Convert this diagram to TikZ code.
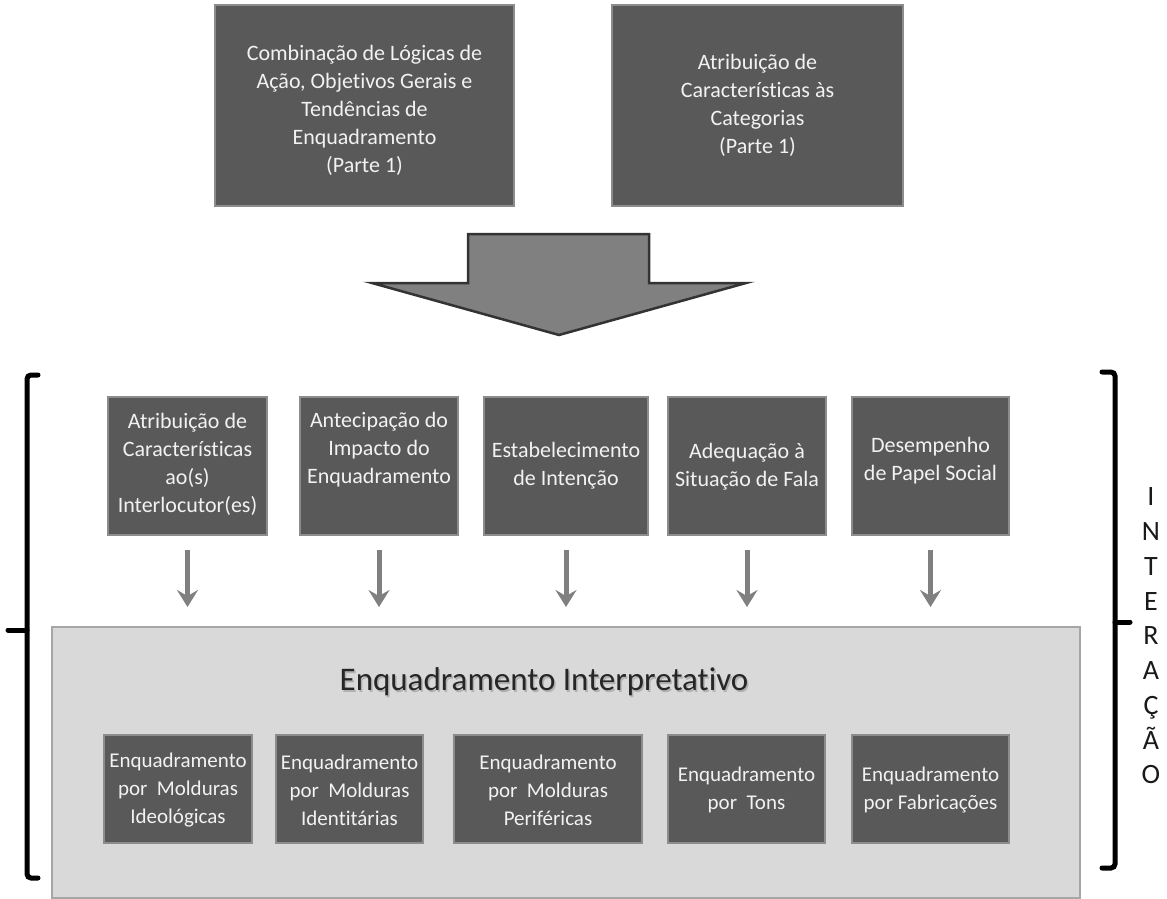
\documentclass[tikz,border=0pt]{standalone}
\usepackage{fontspec}
\setmainfont{Carlito}[Ligatures={NoCommon}]
\usetikzlibrary{arrows.meta}
\definecolor{boxfill}{HTML}{595959}
\definecolor{boxline}{HTML}{8C8C8C}
\definecolor{panelfill}{HTML}{D9D9D9}
\definecolor{panelline}{HTML}{A6A6A6}
\definecolor{arrowgray}{HTML}{808080}
\definecolor{arrowline}{HTML}{333333}
\definecolor{boxtextcol}{HTML}{F2F2F2}
\definecolor{titlecol}{HTML}{262626}
\newcommand{\vertfont}{\fontsize{28}{34.75}\selectfont\lineskiplimit=-100pt\relax}
\tikzset{
  dbox/.style={draw=boxline, line width=2pt, fill=boxfill, inner sep=0pt, outer sep=0pt},
  lbox/.style={draw=panelline, line width=2pt, fill=panelfill, inner sep=0pt, outer sep=0pt},
  boxtext/.style={text=boxtextcol, align=center, inner sep=0pt,
    font=\fontsize{22}{28}\selectfont},
  smalltext/.style={boxtext, font=\fontsize{21}{28}\selectfont},
  titletext/.style={inner sep=0pt, anchor=base, font=\fontsize{33}{38}\selectfont},
  sarrow/.style={draw=arrowgray, line width=5pt,
    -{Stealth[length=17pt, width=21pt, inset=6pt]}},
  brk/.style={line width=5pt, rounded corners=4pt, line cap=round},
}
\begin{document}
\begin{tikzpicture}[x=1pt, y=-1pt]
\useasboundingbox (0,0) rectangle (1167,899);

% top boxes
\node[dbox, minimum width=299, minimum height=201] (top1) at (364.5,105.5) {};
\node[boxtext] (top1t) at (364.5,110) {Combinação de Lógicas de\\Ação, Objetivos Gerais e\\Tendências de\\Enquadramento\\(Parte 1)};
\node[dbox, minimum width=291, minimum height=201] (top2) at (757.5,105.5) {};
\node[boxtext] (top2t) at (757.5,105) {Atribuição de\\Características às\\Categorias\\(Parte 1)};

% large block arrow
\draw[fill=arrowgray, draw=arrowline, line width=2.5pt, line join=miter]
  (468,234) -- (649,234) -- (649,283) -- (746,283) -- (559,335)
  -- (372,283) -- (468,283) -- cycle;

% middle row
\node[dbox, minimum width=159, minimum height=138] (m1) at (187.5,466) {};
\node[boxtext] (m1t) at (187.5,464) {Atribuição de\\Características\\ao(s)\\Interlocutor(es)};
\node[dbox, minimum width=158, minimum height=138] (m2) at (379,466) {};
\node[boxtext] (m2t) at (379,450) {Antecipação do\\Impacto do\\Enquadramento};
\node[dbox, minimum width=164, minimum height=138] (m3) at (566,466) {};
\node[boxtext] (m3t) at (566,466) {Estabelecimento\\de Intenção};
\node[dbox, minimum width=158, minimum height=138] (m4) at (747,466) {};
\node[boxtext] (m4t) at (747,467) {Adequação à\\Situação de Fala};
\node[dbox, minimum width=157, minimum height=138] (m5) at (930.5,466) {};
\node[boxtext] (m5t) at (930.5,461) {Desempenho\\de Papel Social};

% panel with its heading (soft drop shadow under the heading)
\node[lbox, minimum width=1028, minimum height=271] (panel) at (566,762.5) {};
\node[titletext, text=black, opacity=0.18] (titleshadow) at (545.5,692) {Enquadramento Interpretativo};
\node[titletext, text=titlecol] (title) at (544,690) {Enquadramento Interpretativo};

% bottom row
\node[dbox, minimum width=148, minimum height=108] (b1) at (178,789) {};
\node[smalltext] (b1t) at (178,790) {Enquadramento\\por\ \ Molduras\\Ideológicas};
\node[dbox, minimum width=147, minimum height=108] (b2) at (349.5,789) {};
\node[smalltext] (b2t) at (349.5,790) {Enquadramento\\por\ \ Molduras\\Identitárias};
\node[dbox, minimum width=188, minimum height=108] (b3) at (548,789) {};
\node[smalltext] (b3t) at (548,790) {Enquadramento\\por\ \ Molduras\\Periféricas};
\node[dbox, minimum width=157, minimum height=108] (b4) at (746.5,789) {};
\node[smalltext] (b4t) at (746.5,790) {Enquadramento\\por\ \ Tons};
\node[dbox, minimum width=157, minimum height=108] (b5) at (930.5,789) {};
\node[smalltext] (b5t) at (930.5,790) {Enquadramento\\por Fabricações};

% arrows from the middle row into the panel
\foreach \m in {m1,m2,m3,m4,m5}{
  \draw[sarrow, shorten <=15pt, shorten >=20pt] (\m.south) -- (\m.south |- panel.north);
}

% brackets
\coordinate (lbt) at (38,375);
\coordinate (lbb) at (38,878);
\draw[brk] (lbt) -- (27,375) -- (27,878) -- (lbb);
\coordinate (lmid) at (8,630);
\draw[brk] (27,630) -- (lmid);
\coordinate (rbt) at (1102,372);
\coordinate (rbb) at (1102,868);
\draw[brk] (rbt) -- (1115,372) -- (1115,868) -- (rbb);
\coordinate (rmid) at (1130,622);
\draw[brk] (1115,622) -- (rmid);

% vertical label
\node[align=center, inner sep=0pt, text=black!90, font=\vertfont] (inter) at (1151,636)
  {I\\N\\T\\E\\R\\A\\Ç\\Ã\\O};
\end{tikzpicture}
\end{document}
